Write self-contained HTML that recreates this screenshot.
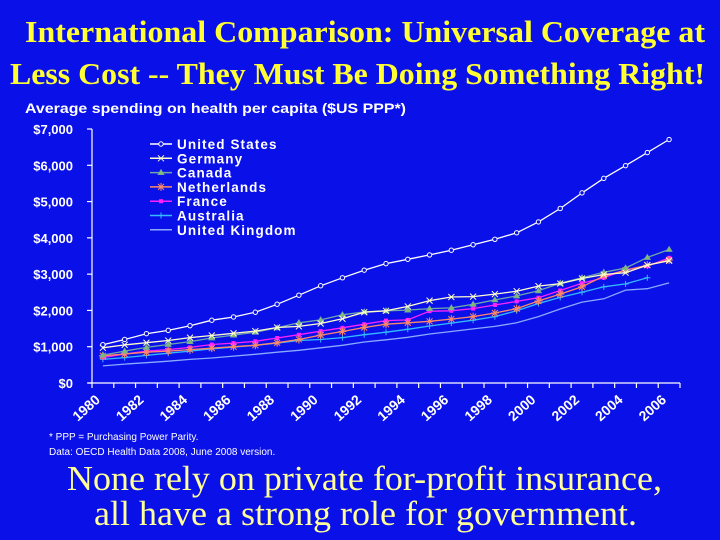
<!DOCTYPE html>
<html><head><meta charset="utf-8"><style>
html,body{margin:0;padding:0;background:#0a10e8;}
svg{display:block;}
text{font-family:"Liberation Sans",Arial,sans-serif;}
.serif{font-family:"Liberation Serif","Times New Roman",serif;}
</style></head><body>
<svg id="chart" width="720" height="540" viewBox="0 0 720 540" xmlns="http://www.w3.org/2000/svg">
<rect x="0" y="0" width="720" height="540" fill="#0a10e8"/>
<text class="serif" x="25" y="42" font-size="31" font-weight="bold" fill="#ffff33" textLength="680" lengthAdjust="spacingAndGlyphs">International Comparison: Universal Coverage at</text>
<text class="serif" x="10" y="84" font-size="31" font-weight="bold" fill="#ffff33" textLength="695" lengthAdjust="spacingAndGlyphs">Less Cost -- They Must Be Doing Something Right!</text>
<text x="25" y="113" font-size="14" font-weight="bold" fill="#ffffff" textLength="381" lengthAdjust="spacingAndGlyphs">Average spending on health per capita ($US PPP*)</text>
<g id="axes"></g>
<g id="series"></g>
<g id="legend"></g>
<text x="49" y="440" font-size="10" fill="#ffffff">* PPP = Purchasing Power Parity.</text>
<text x="49" y="455" font-size="10" fill="#ffffff">Data: OECD Health Data 2008, June 2008 version.</text>
<text class="serif" x="67" y="490" font-size="35" fill="#ffff99" textLength="595" lengthAdjust="spacingAndGlyphs">None rely on private for-profit insurance,</text>
<text class="serif" x="94" y="525" font-size="35" fill="#ffff99" textLength="543" lengthAdjust="spacingAndGlyphs">all have a strong role for government.</text>
</svg>
<script>
const years = [1980,1981,1982,1983,1984,1985,1986,1987,1988,1989,1990,1991,1992,1993,1994,1995,1996,1997,1998,1999,2000,2001,2002,2003,2004,2005,2006];
const yTicks = [0,1000,2000,3000,4000,5000,6000,7000];
const yTickLabels = ["$0","$1,000","$2,000","$3,000","$4,000","$5,000","$6,000","$7,000"];
const seriesNames = ["United States","Germany","Canada","Netherlands","France","Australia","United Kingdom"];
const usValues = [1055,1200,1360,1450,1580,1730,1820,1950,2170,2420,2680,2900,3110,3290,3410,3530,3660,3810,3960,4140,4440,4810,5240,5640,5990,6350,6710];
const germanyValues = [970,1050,1110,1170,1250,1310,1370,1430,1530,1560,1640,1770,1950,1990,2110,2270,2370,2380,2450,2530,2670,2740,2880,2990,3040,3250,3370];
const canadaValues = [770,880,980,1060,1140,1240,1320,1400,1520,1660,1740,1880,1960,1990,2010,2050,2070,2170,2290,2400,2540,2750,2900,3050,3170,3460,3680];
const netherlandsValues = [750,800,850,880,920,960,1000,1040,1110,1200,1320,1420,1530,1620,1660,1700,1760,1830,1930,2050,2260,2450,2650,2950,3110,3250,3390];
const franceValues = [700,800,880,920,980,1060,1100,1150,1240,1330,1430,1520,1620,1720,1740,1980,1990,2050,2150,2250,2350,2550,2750,2900,3120,3220,3450];
const australiaValues = [650,700,760,820,880,940,990,1040,1100,1170,1200,1250,1330,1400,1480,1570,1650,1730,1830,1990,2190,2360,2500,2650,2730,2900,null];
const ukValues = [470,520,560,600,650,690,740,790,850,900,970,1040,1130,1190,1260,1350,1420,1490,1560,1660,1830,2040,2230,2320,2560,2600,2760];

const NS="http://www.w3.org/2000/svg";
const X0=92,X1=680,Y0=383,Y1=129,YMAX=7000;
const step=(X1-X0)/years.length;
function xScale(i){return X0+(i+0.5)*step;}
function yScale(v){return Y0-(v/YMAX)*(Y0-Y1);}
function mk(tag,attrs,parent){const e=document.createElementNS(NS,tag);for(const k in attrs)e.setAttribute(k,attrs[k]);parent.appendChild(e);return e;}

const axes=document.getElementById('axes');
let ya=mk('line',{x1:X0,y1:Y0,x2:X0,y2:Y1,stroke:'#fff','stroke-width':1.2},axes);


let xa=mk('line',{x1:X0-4,y1:Y0,x2:X1,y2:Y0,stroke:'#fff','stroke-width':1.2},axes);


yTicks.forEach((v,i)=>{
  const y=yScale(v);
  let t=mk('line',{x1:X0-5,y1:y,x2:X0,y2:y,stroke:'#fff','stroke-width':1.2},axes);
  
  
  let l=mk('text',{x:73,y:y+5,'font-size':13,'font-weight':'bold',fill:'#fff','text-anchor':'end'},axes);
  l.textContent=yTickLabels[i];
  
  
});
for(let i=0;i<=years.length;i++){
  const x=X0+i*step;
  let t=mk('line',{x1:x,y1:Y0,x2:x,y2:Y0+5,stroke:'#fff','stroke-width':1.2},axes);
  
  
}
years.forEach((yr,i)=>{
  if(yr%2) return;
  const x=X0+i*step+9, y=Y0+18;
  let l=mk('text',{x:x,y:y,'font-size':14,'font-weight':'bold',fill:'#fff','text-anchor':'end',transform:`rotate(-42 ${x} ${y})`},axes);
  l.textContent=String(yr);
  
  
});

const allValues=[usValues,germanyValues,canadaValues,netherlandsValues,franceValues,australiaValues,ukValues];
const colors=['#ffffff','#ffffcc','#70a8a8','#ff8866','#ff22ff','#33bbff','#88aaff'];
const markers=['circle','x','tri','star','square','plus','none'];
const series=document.getElementById('series');
function marker(type,x,y,c,g){
  if(type==='circle') mk('circle',{cx:x,cy:y,r:2.2,fill:'#0a10e8',stroke:c,'stroke-width':1},g);
  else if(type==='x'){mk('path',{d:`M${x-3} ${y-3}L${x+3} ${y+3}M${x-3} ${y+3}L${x+3} ${y-3}`,stroke:c,'stroke-width':1},g);}
  else if(type==='tri') mk('path',{d:`M${x} ${y-3}L${x+3} ${y+2}L${x-3} ${y+2}Z`,fill:'#88bb66',stroke:c,'stroke-width':0.8},g);
  else if(type==='star') mk('path',{d:`M${x-4} ${y}L${x+4} ${y}M${x} ${y-4}L${x} ${y+4}M${x-3} ${y-3}L${x+3} ${y+3}M${x-3} ${y+3}L${x+3} ${y-3}`,stroke:c,'stroke-width':1},g);
  else if(type==='square') mk('rect',{x:x-2,y:y-2,width:4,height:4,fill:c},g);
  else if(type==='plus') mk('path',{d:`M${x-3} ${y}L${x+3} ${y}M${x} ${y-3}L${x} ${y+3}`,stroke:c,'stroke-width':1},g);
}
[6,5,4,3,2,1,0].forEach(s=>{
  const vals=allValues[s];
  const g=mk('g',{},series);
  
  
  let d='';
  vals.forEach((v,i)=>{if(v==null)return;d+=(d?'L':'M')+xScale(i).toFixed(1)+' '+yScale(v).toFixed(1);});
  let p=mk('path',{d:d,fill:'none',stroke:colors[s],'stroke-width':1.3},g);
  
  
  vals.forEach((v,i)=>{if(v==null)return;marker(markers[s],xScale(i),yScale(v),colors[s],g);});
});

const legend=document.getElementById('legend');
seriesNames.forEach((n,i)=>{
  const y=144+i*14.3;
  const g=mk('g',{},legend);
  
  
  mk('line',{x1:150,y1:y,x2:172,y2:y,stroke:colors[i],'stroke-width':1.5},g);
  marker(markers[i],161,y,colors[i],g);
  let t=mk('text',{x:177,y:y+5,'font-size':13.5,'font-weight':'bold',fill:'#fff','letter-spacing':'1.1'},g);
  t.textContent=n;
});
</script>
</body></html>
